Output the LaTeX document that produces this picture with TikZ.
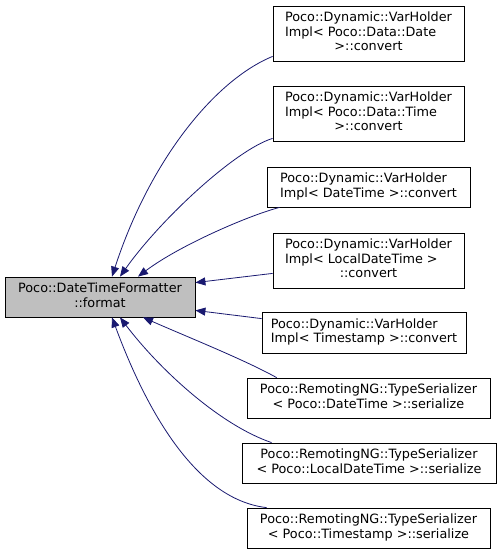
\documentclass[tikz,border=0pt]{standalone}
\usepackage{fontspec}
\setmainfont{DejaVu Sans}
\usetikzlibrary{arrows.meta}
\definecolor{edgeblue}{HTML}{191970}
\definecolor{maingray}{HTML}{BFBFBF}
\begin{document}
\begin{tikzpicture}[x=1pt,y=-1pt,
  box/.style={draw=black, fill=white, line width=0.8pt, inner sep=0pt, minimum height=#1,
    font=\fontsize{12.8}{14.5}\selectfont},
  box/.default=40pt,
  edge/.style={draw=edgeblue, line width=0.8pt, -{Triangle[length=10pt,width=8pt]}}]
\useasboundingbox (0,0) rectangle (500,555);
\newcommand\lin[1]{\begin{tabular}{@{}l@{}}#1\end{tabular}}
\newcommand\cen[1]{\begin{tabular}{@{}c@{}}#1\end{tabular}}
\newcommand\mc[1]{\multicolumn{1}{@{}c@{}}{#1}}

\node[box, fill=maingray, minimum width=190pt] (main) at (100,297)
  {\cen{Poco::DateTimeFormatter\\::format}};
\node[box=55pt, minimum width=191pt] (n1) at (368.5,33.5)
  {\lin{Poco::Dynamic::VarHolder\\Impl< Poco::Data::Date\\\mc{>::convert}}};
\node[box=55pt, minimum width=191pt] (n2) at (368.5,113.5)
  {\lin{Poco::Dynamic::VarHolder\\Impl< Poco::Data::Time\\\mc{>::convert}}};
\node[box, minimum width=203pt] (n3) at (368.5,187)
  {\lin{Poco::Dynamic::VarHolder\\Impl< DateTime >::convert}};
\node[box=55pt, minimum width=191pt] (n4) at (368.5,260.5)
  {\lin{Poco::Dynamic::VarHolder\\Impl< LocalDateTime >\\\mc{::convert}}};
\node[box=41pt, minimum width=204pt] (n5) at (364,332.5)
  {\lin{Poco::Dynamic::VarHolder\\Impl< Timestamp >::convert}};
\node[box, minimum width=243pt] (n6) at (368.5,398)
  {\cen{Poco::RemotingNG::TypeSerializer\\< Poco::DateTime >::serialize}};
\node[box, minimum width=254pt] (n7) at (369,463)
  {\cen{Poco::RemotingNG::TypeSerializer\\< Poco::LocalDateTime >::serialize}};
\node[box, minimum width=243pt] (n8) at (368.5,528)
  {\cen{Poco::RemotingNG::TypeSerializer\\< Poco::Timestamp >::serialize}};

\draw[edge] ([yshift=5pt]n1.south west) .. controls (215,80) and (150,160) .. ([xshift=12pt]main.north);
\draw[edge] ([yshift=3pt]n2.south west) .. controls (235,150) and (160,220) .. ([xshift=20pt]main.north);
\draw[edge] ([xshift=13pt]n3.south west) .. controls (250,215) and (180,245) .. ([xshift=38pt]main.north);
\draw[edge] ([yshift=15pt]n4.south west) -- ([yshift=-6pt]main.north east);
\draw[edge] ([yshift=-7pt]n5.north west) -- ([yshift=7pt]main.south east);
\draw[edge] ([xshift=30pt]n6.north west) .. controls (245,360) and (190,338) .. ([xshift=43pt]main.south);
\draw[edge] ([xshift=30pt]n7.north west) .. controls (220,425) and (160,370) .. ([xshift=20pt]main.south);
\draw[edge] ([xshift=20pt]n8.north west) .. controls (200,500) and (150,420) .. ([xshift=12pt]main.south);
\end{tikzpicture}
\end{document}
